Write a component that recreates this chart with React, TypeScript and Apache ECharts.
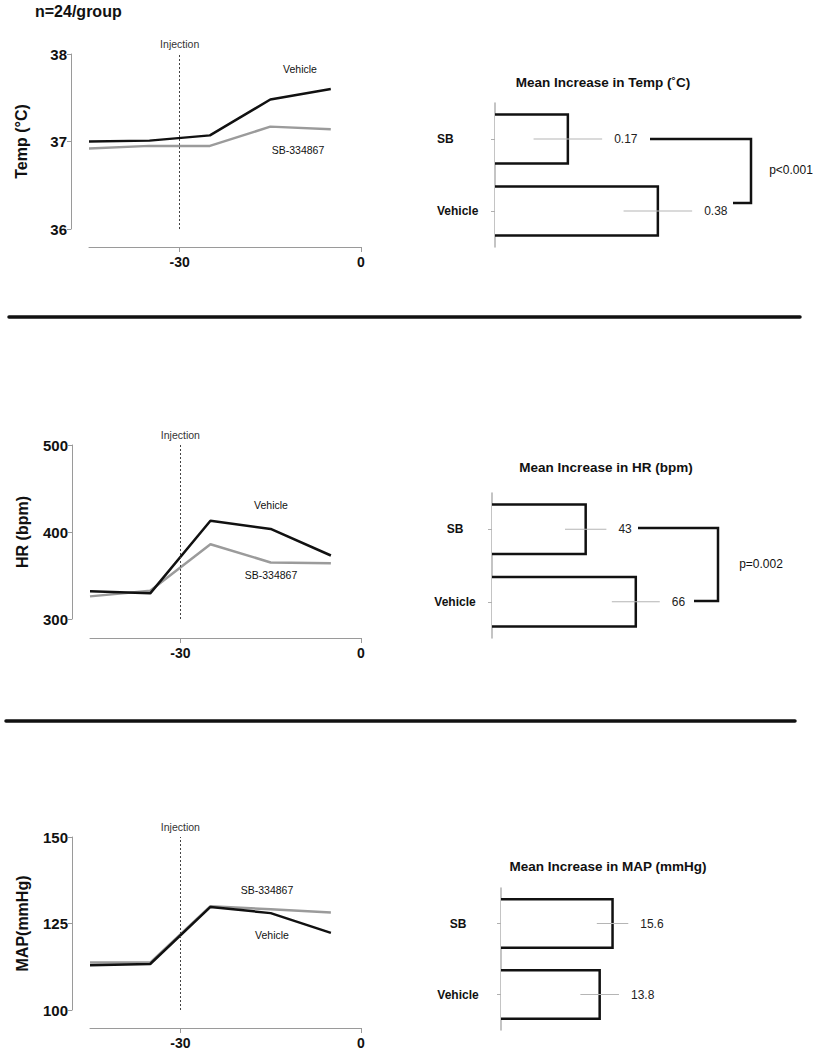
import React, { useEffect, useRef } from "react";
import * as echarts from "echarts";

// ---- Data ----
const timePoints = [-45, -35, -25, -15, -5];
const xTickValues = [-30, 0];
const injectionTime = -30;

const tempVehicle = [37.0, 37.01, 37.07, 37.48, 37.6];
const tempSB = [36.92, 36.95, 36.95, 37.17, 37.14];
const hrVehicle = [332, 329.5, 413, 403.5, 373];
const hrSB = [326, 332.5, 386, 365, 364];
const mapVehicle = [112.9, 113.3, 129.8, 128.0, 122.3];
const mapSB = [113.7, 113.7, 130.0, 129.1, 128.2];

const barCategories = ["Vehicle", "SB"];
const tempIncrease = [0.38, 0.17];
const tempError = [0.08, 0.08];
const hrIncrease = [66, 43];
const hrError = [11, 9.5];
const mapIncrease = [13.8, 15.6];
const mapError = [2.7, 2.2];

const FONT = "Liberation Sans, Arial, Helvetica, sans-serif";
const AXIS_GRAY = "#9a9a9a";
const SB_GRAY = "#9b9b9b";

type LinePanel = {
  grid: { left: number; top: number; width: number; height: number };
  yMin: number;
  yMax: number;
  yInterval: number;
  yName: string;
  vehicle: number[];
  sb: number[];
  xOffset: number;
};

const linePanels: LinePanel[] = [
  { grid: { left: 89, top: 54, width: 272, height: 175 }, yMin: 36, yMax: 38, yInterval: 1, yName: "Temp (°C)", vehicle: tempVehicle, sb: tempSB, xOffset: 18 },
  { grid: { left: 90, top: 445, width: 271, height: 174 }, yMin: 300, yMax: 500, yInterval: 100, yName: "HR (bpm)", vehicle: hrVehicle, sb: hrSB, xOffset: 19 },
  { grid: { left: 90, top: 837, width: 271, height: 175 }, yMin: 100, yMax: 150, yInterval: 25, yName: "MAP(mmHg)", vehicle: mapVehicle, sb: mapSB, xOffset: 18 },
];

type BarPanel = {
  grid: { left: number; top: number; width: number; height: number };
  xMax: number;
  values: number[];
  errors: number[];
  labelAlign: "left" | "center";
  labelMargin: number;
  decimals: number;
};

const barPanels: BarPanel[] = [
  { grid: { left: 495, top: 103, width: 300, height: 144 }, xMax: 0.7, values: tempIncrease, errors: tempError, labelAlign: "left", labelMargin: 58, decimals: 2 },
  { grid: { left: 492, top: 493, width: 305, height: 145 }, xMax: 140, values: hrIncrease, errors: hrError, labelAlign: "center", labelMargin: 37, decimals: 0 },
  { grid: { left: 501, top: 888, width: 286, height: 142 }, xMax: 40, values: mapIncrease, errors: mapError, labelAlign: "center", labelMargin: 43, decimals: 1 },
];

function buildOption() {
  const grid: any[] = [];
  const xAxis: any[] = [];
  const yAxis: any[] = [];
  const series: any[] = [];

  linePanels.forEach((p) => {
    grid.push({ ...p.grid, containLabel: false });
    const gi = grid.length - 1;
    xAxis.push({
      type: "value",
      gridIndex: gi,
      min: -45,
      max: 0,
      offset: p.xOffset,
      axisLine: { show: true, onZero: false, lineStyle: { color: AXIS_GRAY, width: 1 } },
      axisTick: { show: true, customValues: xTickValues, length: 5, lineStyle: { color: AXIS_GRAY } },
      axisLabel: { show: true, customValues: xTickValues, fontFamily: FONT, fontWeight: "bold", fontSize: 14, color: "#111", margin: 8 },
      splitLine: { show: false },
    });
    yAxis.push({
      type: "value",
      gridIndex: gi,
      min: p.yMin,
      max: p.yMax,
      interval: p.yInterval,
      offset: 18,
      name: p.yName,
      nameLocation: "middle",
      nameRotate: 90,
      nameGap: 42,
      nameTextStyle: { fontFamily: FONT, fontWeight: "bold", fontSize: 16, color: "#111" },
      axisLine: { show: true, onZero: false, lineStyle: { color: AXIS_GRAY, width: 1 } },
      axisTick: { show: true, length: 4, lineStyle: { color: AXIS_GRAY } },
      axisLabel: { fontFamily: FONT, fontWeight: "bold", fontSize: 15, color: "#111", margin: 4 },
      splitLine: { show: false },
    });
    series.push({
      type: "line",
      name: "SB-334867",
      xAxisIndex: gi,
      yAxisIndex: gi,
      data: timePoints.map((t, k) => [t, p.sb[k]]),
      symbol: "none",
      lineStyle: { color: SB_GRAY, width: 2.5 },
      z: 2,
      markLine: {
        silent: true,
        symbol: "none",
        lineStyle: { color: "#444", type: [2, 2], width: 1 },
        label: { show: true, position: "end", formatter: "Injection", fontFamily: FONT, fontSize: 10.5, color: "#333", distance: 5 },
        data: [{ xAxis: injectionTime }],
      },
    });
    series.push({
      type: "line",
      name: "Vehicle",
      xAxisIndex: gi,
      yAxisIndex: gi,
      data: timePoints.map((t, k) => [t, p.vehicle[k]]),
      symbol: "none",
      lineStyle: { color: "#111", width: 2.5 },
      z: 3,
    });
  });

  barPanels.forEach((p) => {
    grid.push({ ...p.grid, containLabel: false });
    const gi = grid.length - 1;
    xAxis.push({
      type: "value",
      gridIndex: gi,
      min: 0,
      max: p.xMax,
      show: false,
      splitLine: { show: false },
    });
    yAxis.push({
      type: "category",
      gridIndex: gi,
      data: barCategories,
      axisLine: { show: true, onZero: false, lineStyle: { color: "#b0b0b0", width: 1.5 } },
      axisTick: { show: true, alignWithLabel: true, length: 4, lineStyle: { color: "#b0b0b0" } },
      axisLabel: { fontFamily: FONT, fontWeight: "bold", fontSize: 12, color: "#111", align: p.labelAlign, margin: p.labelMargin },
      splitLine: { show: false },
      z: 1,
    });
    const data = barCategories.map((c, k) => [p.values[k], c, p.errors[k]]);
    series.push({
      type: "custom",
      xAxisIndex: gi,
      yAxisIndex: gi,
      data,
      encode: { x: 0, y: 1 },
      z: 2,
      renderItem: (params: any, api: any) => {
        const v = api.value(0);
        const cat = api.value(1);
        const end = api.coord([v, cat]);
        const base = api.coord([0, cat]);
        const band = api.size([0, 1])[1];
        const h = band * 0.68;
        const y0 = end[1] - h / 2;
        const y1 = end[1] + h / 2;
        return {
          type: "group",
          children: [
            { type: "rect", shape: { x: base[0], y: y0, width: end[0] - base[0], height: h }, style: { fill: "#fff" } },
            {
              type: "polyline",
              shape: { points: [[base[0], y0], [end[0], y0], [end[0], y1], [base[0], y1]] },
              style: { stroke: "#111", lineWidth: 2.5, fill: null },
            },
          ],
        };
      },
    });
    series.push({
      type: "custom",
      xAxisIndex: gi,
      yAxisIndex: gi,
      data,
      encode: { x: 0, y: 1 },
      z: 3,
      renderItem: (params: any, api: any) => {
        const v = api.value(0);
        const cat = api.value(1);
        const e = api.value(2);
        const lo = api.coord([v - e, cat]);
        const hi = api.coord([v + e, cat]);
        return {
          type: "group",
          children: [
            { type: "line", shape: { x1: lo[0], y1: lo[1], x2: hi[0], y2: hi[1] }, style: { stroke: "#b5b5b5", lineWidth: 1.2 } },
            {
              type: "text",
              x: hi[0] + 12,
              y: hi[1],
              style: { text: v.toFixed(p.decimals), fontFamily: FONT, fontSize: 12, fill: "#222", align: "left", verticalAlign: "middle" },
            },
          ],
        };
      },
    });
  });

  const txt = (text: string, x: number, y: number, size: number, bold = false, align = "center") => ({
    type: "text",
    x,
    y,
    silent: true,
    style: { text, fontFamily: FONT, fontSize: size, fontWeight: bold ? "bold" : "normal", fill: "#111", align, verticalAlign: "middle" },
  });

  const graphic: any[] = [
    txt("n=24/group", 35, 11, 16, true, "left"),
    txt("Vehicle", 300, 69, 10.5),
    txt("SB-334867", 298, 150, 10.5),
    txt("Vehicle", 271, 505, 10.5),
    txt("SB-334867", 271, 575, 10.5),
    txt("SB-334867", 267, 890, 10.5),
    txt("Vehicle", 272, 935, 10.5),
    txt("Mean Increase in Temp (˚C)", 603, 82, 13.5, true),
    txt("Mean Increase in HR (bpm)", 606, 467, 13.5, true),
    txt("Mean Increase in MAP (mmHg)", 608, 866, 13.5, true),
    txt("p<0.001", 791, 170, 12),
    txt("p=0.002", 761, 564, 12),
    { type: "polyline", silent: true, shape: { points: [[650, 139], [751, 139], [751, 203], [733, 203]] }, style: { stroke: "#111", lineWidth: 2.5, fill: null } },
    { type: "polyline", silent: true, shape: { points: [[638, 528], [718, 528], [718, 601], [694, 601]] }, style: { stroke: "#111", lineWidth: 2.5, fill: null } },
    { type: "line", silent: true, shape: { x1: 9, y1: 317, x2: 800, y2: 317 }, style: { stroke: "#111", lineWidth: 3.5, lineCap: "round" } },
    { type: "line", silent: true, shape: { x1: 6, y1: 721, x2: 795, y2: 721 }, style: { stroke: "#111", lineWidth: 3.5, lineCap: "round" } },
  ];

  return {
    animation: false,
    backgroundColor: "#fff",
    grid,
    xAxis,
    yAxis,
    series,
    graphic,
  };
}

export default function App() {
  const ref = useRef<HTMLDivElement>(null);
  useEffect(() => {
    if (!ref.current) return;
    const chart = echarts.init(ref.current, undefined, { renderer: "svg" });
    chart.setOption(buildOption() as any);
    return () => chart.dispose();
  }, []);
  return (
    <div
      ref={ref}
      style={{ position: "absolute", left: 0, top: 0, width: 815, height: 1050, background: "#fff" }}
    />
  );
}
